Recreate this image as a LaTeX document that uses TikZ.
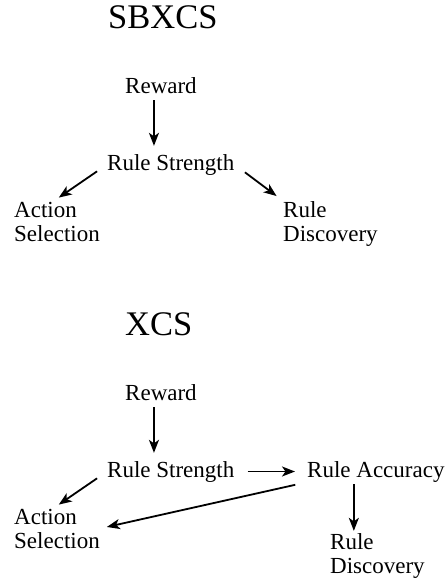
\documentclass[tikz,border=0pt]{standalone}
\usepackage{fontspec}
\setmainfont{Liberation Serif}
\usetikzlibrary{arrows.meta}

% the part both pictures share: Reward -> Rule Strength -> Action Selection
\newcommand{\rewardstrength}[2]{%
    \node[lbl] (rew#1) at (125,#2+93) {Reward};
    \node[lbl] (str#1) at (107,#2+170) {Rule Strength};
    \node[lbl] (act#1) at (14,#2+241) {Action\\Selection};
    \draw[arrow, shorten <=7pt, shorten >=8pt] ([xshift=-7pt]rew#1.south) -- ([xshift=-7pt]rew#1.south |- str#1.north);
    \draw[arrow, shorten <=12pt, shorten >=7pt] (str#1.west) -- ([xshift=-4pt]act#1.north);
}

\begin{document}
\begin{tikzpicture}
        [x=1pt, y=-1pt,
        lbl/.style={anchor=base west, inner sep=0pt, align=left, font=\fontsize{23}{24}\selectfont},
        title/.style={anchor=base west, inner sep=0pt, font=\fontsize{34.5}{36}\selectfont},
        arrow/.style={-{Stealth[length=13pt, width=10pt, inset=3.5pt]}, line width=1.8pt},
        ]
        \useasboundingbox (0,0) rectangle (447,582);
        % SBXCS
        \node[title] (sbx) at (108,28) {SBXCS};
        \rewardstrength{1}{0}
        \node[lbl] (dis1) at (283,241) {Rule\\Discovery};
        \draw[arrow, shorten <=13pt, shorten >=8pt] (str1.east) -- (dis1.north west);
        % XCS
        \node[title] (xcs) at (125,335) {XCS};
        \rewardstrength{2}{307}
        \node[lbl] (acc2) at (307,477) {Rule Accuracy};
        \node[lbl] (dis2) at (330,573) {Rule\\Discovery};
        \draw[arrow, shorten <=13pt, shorten >=12pt] (str2.east) -- (acc2.west);
        \draw[arrow, shorten <=12pt, shorten >=7pt] (acc2.south west) -- (act2.east);
        \draw[arrow, shorten <=2pt, shorten >=2pt] ([xshift=-22pt]acc2.south) -- ([xshift=-22pt]acc2.south |- dis2.north);
\end{tikzpicture}
\end{document}
